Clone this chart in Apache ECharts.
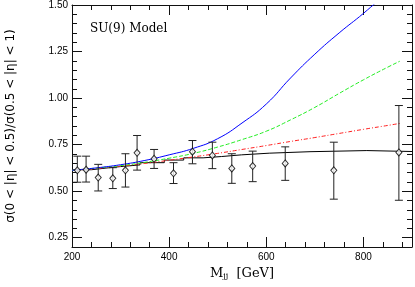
<!DOCTYPE html>
<html>
<head>
<meta charset="utf-8">
<script src="https://cdn.jsdelivr.net/npm/echarts@6/dist/echarts.min.js"></script>
<style>html,body{margin:0;padding:0;background:#fff;}#c{width:415px;height:287px;}</style>
</head>
<body>
<div id="c"></div>
<script>
const massPoints = [211, 229, 254, 284, 310, 334, 369, 409, 448, 489, 529, 572, 639, 739, 873];
const ratioValues = [0.612, 0.615, 0.573, 0.569, 0.612, 0.706, 0.674, 0.596, 0.712, 0.692, 0.622, 0.635, 0.649, 0.612, 0.708];
const errLow = [0.548, 0.549, 0.501, 0.514, 0.522, 0.613, 0.622, 0.541, 0.647, 0.621, 0.542, 0.551, 0.558, 0.457, 0.451];
const errHigh = [0.688, 0.688, 0.644, 0.626, 0.701, 0.799, 0.724, 0.653, 0.772, 0.763, 0.701, 0.715, 0.738, 0.763, 0.960];

const curveMass = [200, 250, 300, 350, 400, 450, 500, 550, 600, 650, 700, 750, 800, 850, 875];
const blueCurve = [0.612, 0.625, 0.642, 0.665, 0.695, 0.730, 0.782, 0.866, 0.968, 1.108, 1.236, 1.350, 1.455, 1.57, 1.63];
const greenCurve = [0.612, 0.624, 0.637, 0.655, 0.677, 0.703, 0.737, 0.777, 0.822, 0.883, 0.950, 1.025, 1.098, 1.166, 1.198];
const redCurve = [0.612, 0.622, 0.634, 0.649, 0.666, 0.684, 0.703, 0.724, 0.745, 0.767, 0.788, 0.810, 0.832, 0.853, 0.864];

const histEdges = [200, 240, 270, 300, 340, 390, 430, 470, 508, 549, 606, 690, 807, 900];
const histValues = [0.615, 0.624, 0.632, 0.641, 0.653, 0.667, 0.679, 0.686, 0.695, 0.704, 0.712, 0.718, 0.713];

const yMajorTicks = [0.25, 0.5, 0.75, 1.0, 1.25, 1.5];
const xTickLabels = ['200', '400', '600', '800'];

const pair = (xs, ys) => xs.map((x, i) => [x, ys[i]]);
const histData = histEdges.map((e, i) => [e, histValues[Math.min(i, histValues.length - 1)]]);
const errData = massPoints.map((x, i) => [x, errLow[i], errHigh[i]]);

const tickColor = '#111';
const labelFont = { fontFamily: 'Liberation Sans', fontSize: 10, color: '#000' };

function xAx(pos, showLabel) {
  return {
    type: 'value', position: pos, min: 200, max: 900, interval: 200,
    axisLine: { show: true, onZero: false, lineStyle: { color: tickColor, width: 1 } },
    axisTick: { show: true, inside: true, length: 10, lineStyle: { color: tickColor } },
    minorTick: { show: true, splitNumber: 5, length: 5, lineStyle: { color: tickColor } },
    splitLine: { show: false }, minorSplitLine: { show: false },
    axisLabel: Object.assign({ show: showLabel, margin: 5, formatter: v => xTickLabels.includes(String(v)) ? String(v) : '' }, labelFont)
  };
}
function yMinor(pos, showLabel) {
  return {
    type: 'value', position: pos, min: 0.2, max: 1.5, interval: 0.05,
    axisLine: { show: true, onZero: false, lineStyle: { color: tickColor, width: 1 } },
    axisTick: { show: true, inside: true, length: 5, lineStyle: { color: tickColor } },
    splitLine: { show: false },
    axisLabel: Object.assign({
      show: showLabel, margin: 4,
      formatter: v => { const k = Math.round(v / 0.25); return Math.abs(v - k * 0.25) < 1e-6 && k >= 1 ? (k * 0.25).toFixed(2) : ''; }
    }, labelFont)
  };
}
function yMajor(pos) {
  return {
    type: 'value', position: pos, min: 0.2, max: 1.5,
    axisLine: { show: false },
    axisTick: { show: true, inside: true, length: 10, customValues: yMajorTicks, lineStyle: { color: tickColor } },
    splitLine: { show: false },
    axisLabel: { show: false }
  };
}

const chart = echarts.init(document.getElementById('c'), null, { renderer: 'canvas' });
const yMain = yMinor('left', true);
yMain.name = 'σ(0 < |η| < 0.5)/σ(0.5 < |η| < 1)';
yMain.nameLocation = 'middle';
yMain.nameGap = 55;
yMain.nameTextStyle = { fontFamily: 'DejaVu Sans', fontSize: 12, color: '#000' };
const xMain = xAx('bottom', true);
xMain.name = '{m|M}{s|jj}{m|  [GeV]}';
xMain.nameLocation = 'middle';
xMain.nameGap = 19;
xMain.nameTextStyle = { rich: {
  m: { fontFamily: 'DejaVu Serif', fontSize: 13, color: '#000' },
  s: { fontFamily: 'DejaVu Serif', fontSize: 8, color: '#000', verticalAlign: 'bottom', padding: [6, 0, 0, 0] }
} };

chart.setOption({
  animation: false,
  backgroundColor: '#fff',
  grid: { left: 72, right: 3, top: 5, bottom: 40, containLabel: false, outerBoundsMode: 'none' },
  xAxis: [xMain, xAx('top', false)],
  yAxis: [yMain, yMajor('left'), yMinor('right', false), yMajor('right')],
  graphic: [{ type: 'text', left: 90, top: 23, style: { text: 'SU(9) Model', font: '12px "DejaVu Serif"', fill: '#000' } }],
  series: [
    { type: 'line', data: histData, step: 'end', symbol: 'none', lineStyle: { color: '#000', width: 1 }, z: 2 },
    { type: 'line', data: pair(curveMass, redCurve), smooth: true, symbol: 'none', lineStyle: { color: '#ff2020', width: 1, type: [4, 2, 1, 2] }, z: 3 },
    { type: 'line', data: pair(curveMass, greenCurve), smooth: true, symbol: 'none', lineStyle: { color: '#22ee22', width: 1, type: [4, 2] }, z: 3 },
    { type: 'line', data: pair(curveMass, blueCurve), smooth: true, symbol: 'none', clip: true, lineStyle: { color: '#0000ff', width: 1 }, z: 4 },
    {
      type: 'custom', data: errData, z: 5,
      renderItem: (params, api) => {
        const x = api.value(0);
        const lo = api.coord([x, api.value(1)]);
        const hi = api.coord([x, api.value(2)]);
        const st = { stroke: '#222', lineWidth: 1 };
        return { type: 'group', children: [
          { type: 'line', shape: { x1: lo[0], y1: lo[1], x2: hi[0], y2: hi[1] }, style: st },
          { type: 'line', shape: { x1: lo[0] - 4, y1: lo[1], x2: lo[0] + 4, y2: lo[1] }, style: st },
          { type: 'line', shape: { x1: hi[0] - 4, y1: hi[1], x2: hi[0] + 4, y2: hi[1] }, style: st }
        ] };
      }
    },
    { type: 'scatter', data: pair(massPoints, ratioValues), symbol: 'diamond', symbolSize: [6, 7], z: 6,
      itemStyle: { color: '#fff', borderColor: '#000', borderWidth: 1 } }
  ]
});
</script>
</body>
</html>
